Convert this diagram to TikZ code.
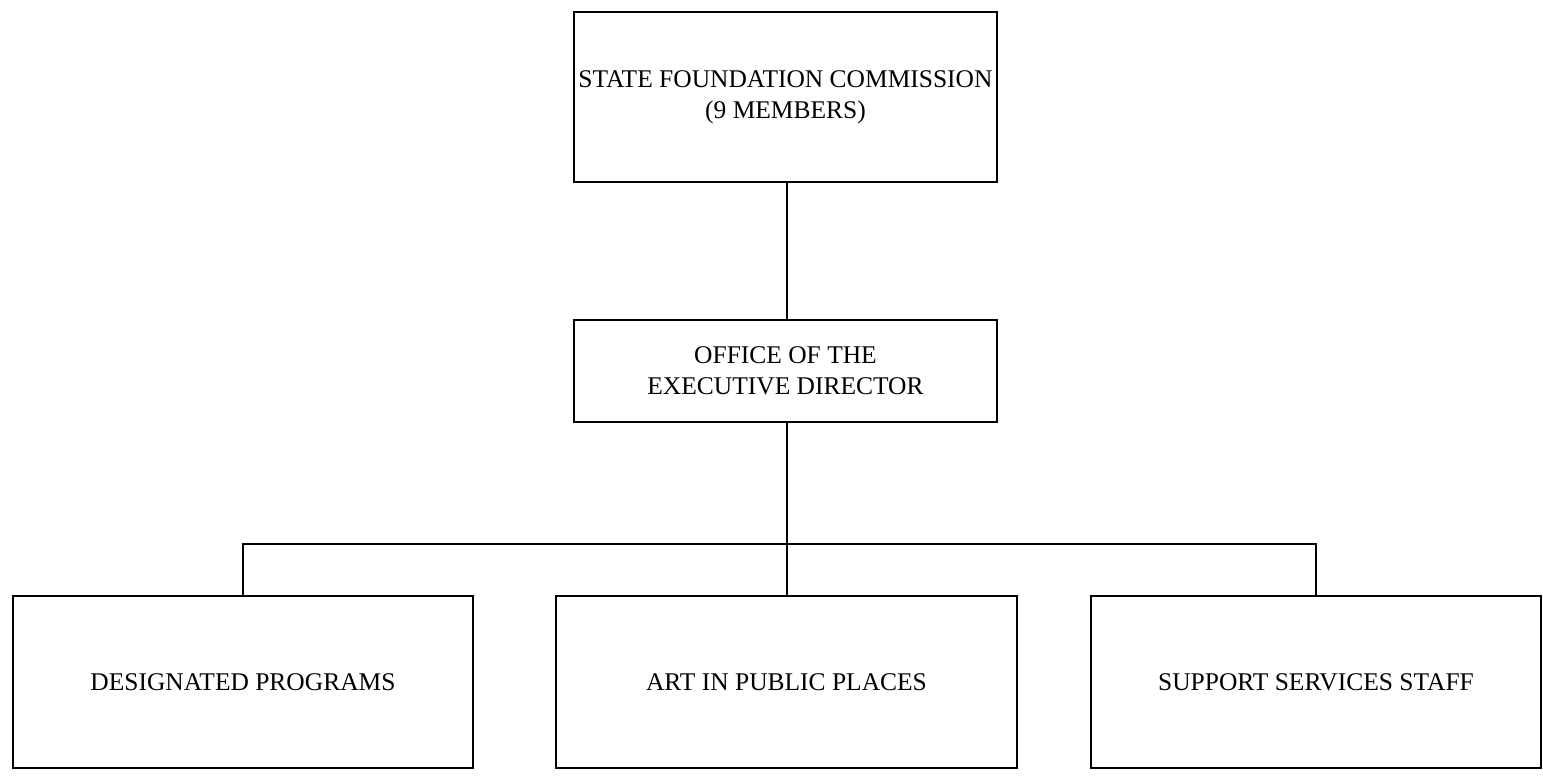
\documentclass[tikz,border=0pt]{standalone}
\usepackage{fontspec}
\setmainfont{Liberation Serif}
\usetikzlibrary{positioning}

\tikzset{
  unit/.style={draw, line width=0.9pt, inner sep=0pt, align=center,
    font=\fontsize{14.5}{17.5}\selectfont},
  link/.style={line width=0.9pt}
}

\begin{document}
\begin{tikzpicture}[x=0.02cm, y=-0.02cm]
\useasboundingbox (0, 0) rectangle (1543, 776);

%% 上面两层
\node[unit, minimum width=8.46cm, minimum height=3.4cm] (sfc) at (785.5, 97)
  {STATE FOUNDATION COMMISSION\\(9 MEMBERS)};
\node[unit, minimum width=8.46cm, minimum height=2.04cm] (oed) at (785.5, 371)
  {OFFICE OF THE\\EXECUTIVE DIRECTOR};

%% 下面三个部门
\node[unit, minimum width=9.2cm, minimum height=3.44cm] (dp) at (243, 682)
  {DESIGNATED PROGRAMS};
\node[unit, minimum width=9.22cm, minimum height=3.44cm] (aipp) at (786.5, 682)
  {ART IN PUBLIC PLACES};
\node[unit, minimum width=9.0cm, minimum height=3.44cm] (sss) at (1316, 682)
  {SUPPORT SERVICES STAFF};

%% 连线
\coordinate (bus) at (787, 544);
\draw[link] (sfc.south -| bus) -- (oed.north -| bus);
\draw[link] (oed.south -| bus) -- (bus);
\draw[link] (dp.north) |- (bus) -| (sss.north);
\draw[link] (bus) -- (aipp.north -| bus);
\end{tikzpicture}
\end{document}
